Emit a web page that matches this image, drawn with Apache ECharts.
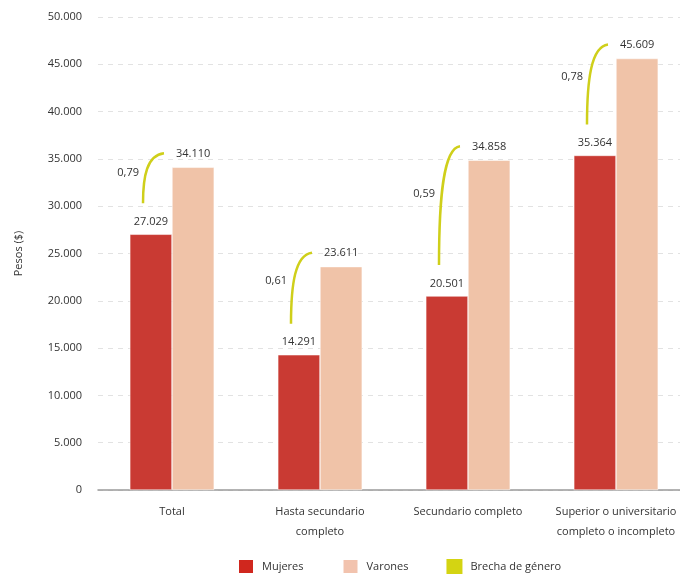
<!DOCTYPE html>
<html><head><meta charset="utf-8">
<script src="https://cdn.jsdelivr.net/npm/echarts@6/dist/echarts.min.js"></script>
<style>html,body{margin:0;padding:0;background:#fff;overflow:hidden}#c{width:690px;height:576px}</style>
</head><body><div id="c"></div>
<script>
const categories = ['Total', 'Hasta secundario\ncompleto', 'Secundario completo', 'Superior o universitario\ncompleto o incompleto'];
const mujeres = [27029, 14291, 20501, 35364];
const varones = [34110, 23611, 34858, 45609];
const brecha = [0.79, 0.61, 0.59, 0.78];
const yTicks = [0, 5000, 10000, 15000, 20000, 25000, 30000, 35000, 40000, 45000, 50000];

const FONT = '"Open Sans", sans-serif';
const FS = 11;
const fmt = v => String(v).replace(/\B(?=(\d{3})+(?!\d))/g, '.');
const RED = '#C93A33', PEACH = '#F0C3A8', YEL = '#CFCF1A';

const chart = echarts.init(document.getElementById('c'));
chart.setOption({
  animation: false,
  textStyle: { fontFamily: FONT, color: '#333' },
  grid: { left: 98, right: 0, top: 17, bottom: 86, containLabel: false },
  legend: {
    bottom: 1, left: 237, padding: 0, itemWidth: 16, itemHeight: 15, itemGap: 38, icon: 'rect',
    textStyle: { fontFamily: FONT, fontSize: FS, color: '#333', padding: [0, 0, 0, 3] },
    data: [
      { name: 'Mujeres', itemStyle: { color: '#D0271E' } },
      { name: 'Varones', itemStyle: { color: '#F2C3AE' } },
      { name: 'Brecha de género', itemStyle: { color: '#D4D412' } }
    ]
  },
  xAxis: {
    type: 'category', data: categories,
    axisLine: { lineStyle: { color: '#9a9a9a', width: 1.5 } },
    axisTick: { show: false },
    axisLabel: { fontFamily: FONT, fontSize: FS, color: '#333', margin: 12, lineHeight: 20, interval: 0 }
  },
  yAxis: {
    type: 'value', min: yTicks[0], max: yTicks[yTicks.length - 1], interval: yTicks[1] - yTicks[0],
    name: 'Pesos ($)', nameLocation: 'middle', nameGap: 74,
    nameTextStyle: { fontFamily: FONT, fontSize: FS, color: '#333' },
    axisLine: { show: false }, axisTick: { show: false },
    axisLabel: { fontFamily: FONT, fontSize: FS, color: '#333', margin: 16, formatter: v => fmt(v) },
    splitLine: { lineStyle: { color: '#e2e2e2', type: [5, 5] } }
  },
  series: [
    { name: 'Mujeres', type: 'bar', data: mujeres, barGap: '0%', barCategoryGap: '43%',
      itemStyle: { color: RED, borderColor: '#fff', borderWidth: 0.5 },
      label: { show: true, position: 'top', distance: 7, fontFamily: FONT, fontSize: FS, color: '#333', formatter: p => fmt(p.value) } },
    { name: 'Varones', type: 'bar', data: varones,
      itemStyle: { color: PEACH, borderColor: '#fff', borderWidth: 0.5 },
      label: { show: true, position: 'top', distance: 8, fontFamily: FONT, fontSize: FS, color: '#333', formatter: p => fmt(p.value) } },
    { name: 'Brecha de género', type: 'custom', itemStyle: { color: YEL },
      data: categories.map((c, i) => [i, mujeres[i], varones[i], brecha[i]]),
      encode: { x: 0, y: [1, 2] },
      renderItem: function (params, api) {
        const i = api.value(0);
        const pm = api.coord([i, api.value(1)]);
        const pv = api.coord([i, api.value(2)]);
        const x0 = pm[0] - 29, y0 = pm[1] - 31;
        const x1 = pm[0] - 8, y1 = pv[1] - 14;
        const h = y0 - y1;
        return {
          type: 'group',
          children: [
            { type: 'bezierCurve',
              shape: { x1: x0, y1: y0, x2: x1, y2: y1, cpx1: x0, cpy1: y0 - h * 0.55, cpx2: x0 + 4, cpy2: y1 + 2 },
              style: { stroke: YEL, lineWidth: 2.5, fill: null } },
            { type: 'text',
              style: { x: x0 - 4, y: y1 + h * 0.4, text: String(api.value(3)).replace('.', ','),
                       textAlign: 'right', textVerticalAlign: 'middle', fill: '#333', font: FS + 'px ' + FONT } }
          ]
        };
      }
    }
  ]
});
</script></body></html>
